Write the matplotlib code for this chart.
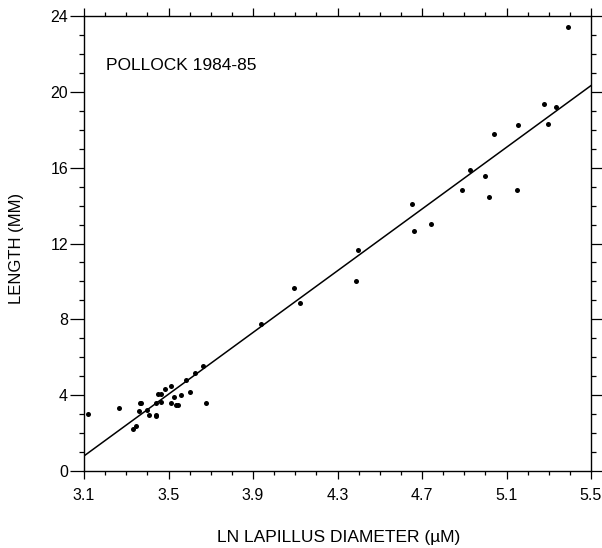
import matplotlib
matplotlib.use("Agg")
from matplotlib import pyplot as plt
from matplotlib.ticker import MultipleLocator
import numpy as np

plt.rcParams['font.family'] = ['Liberation Sans', 'DejaVu Sans']

# ln lapillus diameter and fish length
ln_diameter = [3.119, 3.266, 3.332, 3.345, 3.358, 3.364, 3.370, 3.396, 3.408,
               3.440, 3.440, 3.443, 3.452, 3.465, 3.465, 3.484, 3.513, 3.513,
               3.526, 3.535, 3.545, 3.560, 3.582, 3.601, 3.627, 3.661, 3.677,
               3.940, 4.093, 4.123, 4.389, 4.398,
               4.655, 4.664, 4.741, 4.888, 4.926, 4.999, 5.015, 5.039, 5.148,
               5.154, 5.279, 5.295, 5.333, 5.390]
length_mm = [3.01, 3.30, 2.20, 2.37, 3.15, 3.57, 3.60, 3.20, 2.97,
             3.60, 2.94, 2.90, 4.06, 4.06, 3.64, 4.31, 4.48, 3.60,
             3.92, 3.50, 3.47, 4.02, 4.80, 4.17, 5.15, 5.54, 3.60,
             7.75, 9.64, 8.88, 10.00, 11.66,
             14.08, 12.67, 13.01, 14.84, 15.88, 15.57, 14.45, 17.76, 14.84,
             18.23, 19.36, 18.30, 19.18, 23.43]

# fitted line  length = slope * ln(diameter) + intercept
fit_slope = 8.14
fit_intercept = -24.44

x_ticks = [3.1, 3.5, 3.9, 4.3, 4.7, 5.1, 5.5]
y_ticks = [0, 4, 8, 12, 16, 20, 24]

fig = plt.figure(figsize=(6.02, 5.48), dpi=100)
ax = fig.add_axes([84 / 602, 1 - 471 / 548, 507 / 602, 455 / 548])

ax.scatter(ln_diameter, length_mm, s=13, color="black", linewidths=0, zorder=3)

fx = np.array([3.1, 5.5])
ax.plot(fx, fit_slope * fx + fit_intercept, color="black", lw=1.1)

ax.set_xlim(3.1, 5.5)
ax.set_ylim(0, 24)
ax.set_xticks(x_ticks)
ax.set_xticklabels([f"{v:.1f}" for v in x_ticks])
ax.set_yticks(y_ticks)
ax.xaxis.set_minor_locator(MultipleLocator(0.1))
ax.yaxis.set_minor_locator(MultipleLocator(1))

for s in ax.spines.values():
    s.set_linewidth(1.0)

ax.tick_params(which="both", direction="out", top=True, right=True,
               width=0.9, colors="black")
ax.tick_params(axis="x", which="major", length=5.5, pad=7, labelsize=11.5)
ax.tick_params(axis="x", which="minor", length=3)
ax.tick_params(axis="y", which="major", length=10, pad=1.5, labelsize=11.5)
ax.tick_params(axis="y", which="minor", length=3.5)

ax.set_xlabel("LN LAPILLUS DIAMETER (\u00b5M)", fontsize=12.5)
ax.xaxis.set_label_coords(0.502, -0.13)
ax.set_ylabel("LENGTH (MM)", fontsize=12)
ax.yaxis.set_label_coords(-0.118, 0.49)

ax.text(3.204, 21.15, "POLLOCK 1984-85", fontsize=12.5, va="baseline")

fig.savefig("out.png", dpi=100)
